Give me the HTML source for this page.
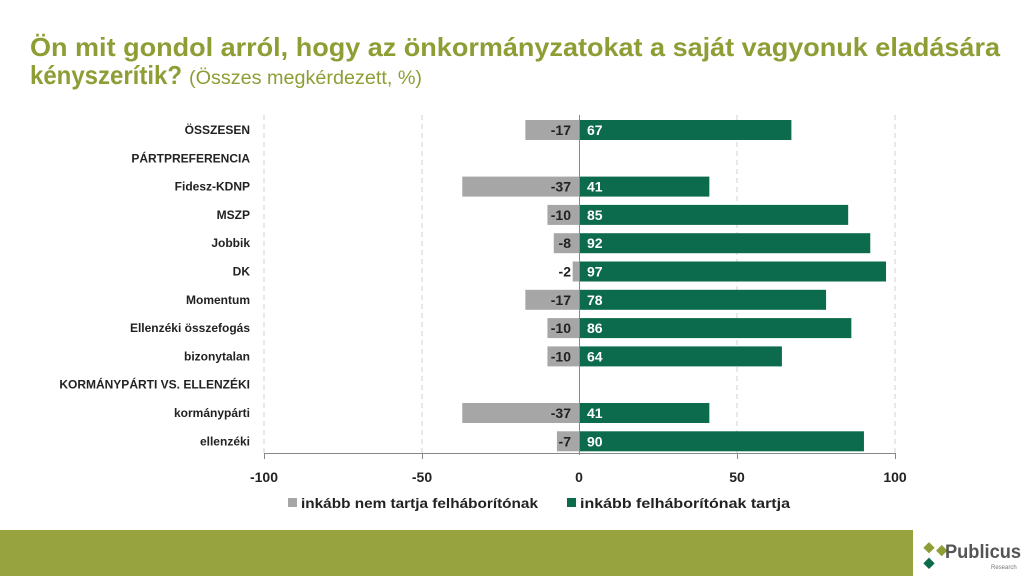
<!DOCTYPE html>
<html><head><meta charset="utf-8"><style>
html,body{margin:0;padding:0;background:#fff;}
svg{display:block;font-family:"Liberation Sans",sans-serif;}
</style></head><body>
<svg width="1024" height="576" viewBox="0 0 1024 576" xmlns="http://www.w3.org/2000/svg">
<text x="30" y="56" font-size="26" font-weight="bold" fill="#8f9d35" textLength="970" lengthAdjust="spacingAndGlyphs">Ön mit gondol arról, hogy az önkormányzatokat a saját vagyonuk eladására</text>
<text x="30" y="84" font-size="26" font-weight="bold" fill="#8f9d35" textLength="152" lengthAdjust="spacingAndGlyphs">kényszerítik?</text>
<text x="189" y="84" font-size="19" fill="#8f9d35" textLength="233" lengthAdjust="spacingAndGlyphs">(Összes megkérdezett, %)</text>
<g stroke="#d8d8d8" stroke-width="1.2" stroke-dasharray="5,4">
<line x1="264" y1="115" x2="264" y2="453"/><line x1="422" y1="115" x2="422" y2="453"/>
<line x1="737" y1="115" x2="737" y2="453"/><line x1="895" y1="115" x2="895" y2="453"/>
</g>
<g id="bars"></g>
<line x1="264" y1="453.5" x2="895" y2="453.5" stroke="#888" stroke-width="1"/>
<line x1="579.5" y1="115" x2="579.5" y2="455" stroke="#888" stroke-width="1"/>
<g stroke="#888"><line x1="264.5" y1="453" x2="264.5" y2="459"/><line x1="422.5" y1="453" x2="422.5" y2="459"/><line x1="737.5" y1="453" x2="737.5" y2="459"/><line x1="895.5" y1="453" x2="895.5" y2="459"/></g>
<g font-size="14" font-weight="bold" fill="#222" text-anchor="middle">
<text x="264" y="482">-100</text><text x="422" y="482">-50</text><text x="579" y="482">0</text><text x="737" y="482">50</text><text x="895" y="482">100</text>
</g>
<rect x="288" y="498" width="9" height="9" fill="#a6a6a6"/>
<text x="301" y="508" font-size="14" font-weight="bold" fill="#222" textLength="237" lengthAdjust="spacingAndGlyphs">inkább nem tartja felháborítónak</text>
<rect x="567" y="498" width="9" height="9" fill="#0c6a4d"/>
<text x="580" y="508" font-size="14" font-weight="bold" fill="#222" textLength="210" lengthAdjust="spacingAndGlyphs">inkább felháborítónak tartja</text>
<rect x="0" y="530" width="913" height="46" fill="#97a33f"/>
<g transform="translate(929,552)">
<rect x="-7" y="-7" width="8" height="8" fill="#8f9d35" transform="rotate(45)"/>
<rect x="4" y="-14" width="8" height="8" fill="#8f9d35" transform="rotate(45)"/>
<rect x="4" y="4" width="8" height="8" fill="#0c6a4d" transform="rotate(45)"/>
</g>
<text x="945" y="558" font-size="19" font-weight="bold" fill="#555" textLength="76" lengthAdjust="spacingAndGlyphs">Publicus</text>
<text x="991" y="569" font-size="6" fill="#777">Research</text>
<g id="labels" font-size="12" font-weight="bold" fill="#222"></g>
<script>
var rows=[["ÖSSZESEN",-17,67],["PÁRTPREFERENCIA",null,null],["Fidesz-KDNP",-37,41],["MSZP",-10,85],["Jobbik",-8,92],["DK",-2,97],["Momentum",-17,78],["Ellenzéki összefogás",-10,86],["bizonytalan",-10,64],["KORMÁNYPÁRTI VS. ELLENZÉKI",null,null],["kormánypárti",-37,41],["ellenzéki",-7,90]];
var ns="http://www.w3.org/2000/svg",b=document.getElementById("bars"),l=document.getElementById("labels");
function el(p,t,a,txt){var e=document.createElementNS(ns,t);for(var k in a)e.setAttribute(k,a[k]);if(txt!=null)e.textContent=txt;p.appendChild(e);return e;}
var s=3.155;
rows.forEach(function(r,i){
 var y=130+i*28.3;
 el(l,"text",{x:250,y:y+4,"text-anchor":"end"},r[0]);
 if(r[1]==null)return;
 var w=-r[1]*s;
 el(b,"rect",{x:579-w,y:y-10,width:w,height:20,fill:"#a6a6a6"});
 el(b,"rect",{x:580,y:y-10,width:r[2]*s,height:20,fill:"#0c6a4d"});
 el(b,"text",{x:571,y:y+5,"text-anchor":"end","font-size":"14","font-weight":"bold",fill:"#222"},r[1]);
 el(b,"text",{x:587,y:y+5,"font-size":"14","font-weight":"bold",fill:"#fff"},r[2]);
});
</script>
</svg>
</body></html>
